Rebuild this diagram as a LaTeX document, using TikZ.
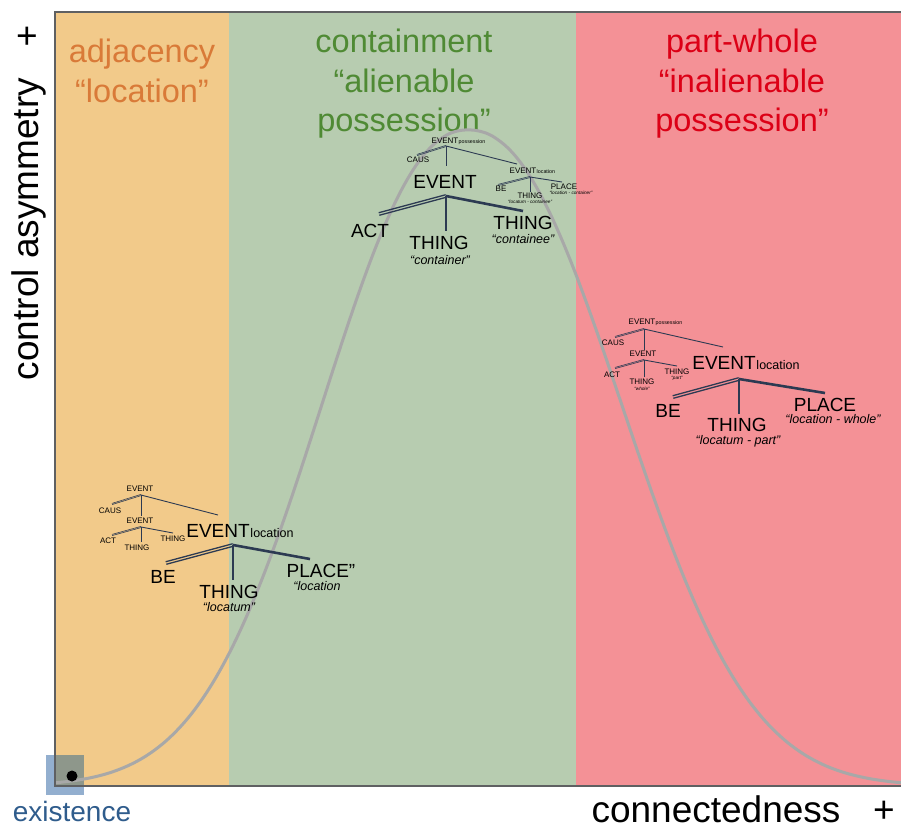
\documentclass[tikz,border=0pt]{standalone}
\usepackage{fontspec}
\setmainfont{Liberation Sans}
\usetikzlibrary{calc}
\definecolor{orgbg}{HTML}{F2CA8A}
\definecolor{grnbg}{HTML}{B7CCB0}
\definecolor{redbg}{HTML}{F49196}
\definecolor{orgtx}{HTML}{D97A38}
\definecolor{grntx}{HTML}{4F8A34}
\definecolor{redtx}{HTML}{DC0016}
\definecolor{navy}{HTML}{2C3A52}
\definecolor{framec}{HTML}{5F6062}
\definecolor{curvec}{HTML}{A8A8A8}
\definecolor{exblue}{HTML}{2F5C8C}
\definecolor{sqblue}{HTML}{93AFCF}
\definecolor{sqgray}{HTML}{8E978B}
\begin{document}
\begin{tikzpicture}[x=1pt,y=-1pt,
  every node/.style={inner sep=0pt, outer sep=0pt},
  ttl/.style={font=\fontsize{32.5}{32.5}\selectfont, anchor=base},
  axlab/.style={font=\fontsize{37}{37}\selectfont, anchor=base},
  bigl/.style={font=\fontsize{19}{19}\selectfont},
  subbig/.style={font=\fontsize{12.5}{12.5}\selectfont, anchor=base west},
  qbig/.style={font=\itshape\fontsize{12.5}{12.5}\selectfont},
  sml/.style={font=\fontsize{8}{8}\selectfont},
  subsml/.style={font=\fontsize{5.3}{5.3}\selectfont, anchor=base west},
  qsml/.style={font=\itshape\fontsize{4.7}{4.7}\selectfont},
  thk/.style={draw=navy, line width=2.6pt},
  thn/.style={draw=navy, line width=0.9pt},
  dbl/.style={draw=navy, to path={($(\tikztostart)!#1!90:(\tikztotarget)$) -- ($(\tikztotarget)!#1!-90:(\tikztostart)$) ($(\tikztostart)!#1!-90:(\tikztotarget)$) -- ($(\tikztotarget)!#1!90:(\tikztostart)$)}},
  dblbig/.style={dbl=1.3pt, line width=1.3pt},
  dblsml/.style={dbl=0.6pt, line width=0.55pt},
]
\useasboundingbox (0,0) rectangle (901,830);
% background regions
\fill[orgbg] (55,12) rectangle (229,786);
\fill[grnbg] (229,12) rectangle (576,786);
\fill[redbg] (576,12) rectangle (901,786);
% titles
\node[ttl, text=orgtx] (adj1) at (142,62) {adjacency};
\node[ttl, text=orgtx] (adj2) at (142,102) {“location”};
\node[ttl, text=grntx] (con1) at (404,52) {containment};
\node[ttl, text=grntx] (con2) at (404,92) {“alienable};
\node[ttl, text=grntx] (con3) at (404,131) {possession”};
\node[ttl, text=redtx] (pw1) at (742,52) {part-whole};
\node[ttl, text=redtx] (pw2) at (742,92) {“inalienable};
\node[ttl, text=redtx] (pw3) at (742,131) {possession”};
% existence square
\fill[sqblue] (46,755) rectangle (84,795);
\fill[sqgray] (55,755) rectangle (84,786);
% curve
\draw[curvec, line width=3pt] plot[domain=55:901, samples=150, smooth]
  (\x, {786-656*exp(-1*pow(abs(\x-468)/((\x<468)?193:203),2.2))});
% ---------- centre tree ----------
\node[sml] (cEp) at (445,141) {EVENT};
\node[subsml] (cEps) at ([xshift=0.4pt]cEp.base east) {possession};
\node[sml] (cCaus) at (418,160) {CAUS};
\coordinate (cS) at (446,146);
\coordinate (cSc) at (417,155);
\coordinate (cSd) at (446,166);
\coordinate (cSl) at (517,164);
\draw[dblsml] (cS) to (cSc);
\draw[thn] (cS) -- (cSd);
\draw[thn] (cS) -- (cSl);
\node[sml] (cEl) at (523,171) {EVENT};
\node[subsml] (cEls) at ([xshift=0.4pt]cEl.base east) {location};
\coordinate (cL) at (530,177);
\coordinate (cLb) at (498,185);
\coordinate (cLt) at (530,192);
\coordinate (cLp) at (562,182);
\draw[dblsml] (cL) to (cLb);
\draw[thn] (cL) -- (cLt);
\draw[thn] (cL) -- (cLp);
\node[sml] (cBe) at (501,189) {BE};
\node[sml] (cTh3) at (530,196) {THING};
\node[qsml] (cQ3) at (530,201.5) {“locatum - containee”};
\node[sml] (cPl) at (564,186.5) {PLACE};
\node[qsml] (cQ4) at (571,192.5) {“location - container”};
\node[bigl] (cEv) at (445,182) {EVENT};
\coordinate (cB) at (446,196);
\coordinate (cBa) at (379,214);
\coordinate (cBt) at (446,231);
\coordinate (cBp) at (523,211);
\draw[dblbig] (cB) to (cBa);
\draw[thk] (cB) -- (cBt);
\draw[thk] (cB) -- (cBp);
\node[bigl] (cAct) at (370,231) {ACT};
\node[bigl] (cTh1) at (439,243) {THING};
\node[qbig] (cQ1) at (440,260) {“container”};
\node[bigl] (cTh2) at (523,223) {THING};
\node[qbig] (cQ2) at (523,239) {“containee”};
% ---------- right tree ----------
\node[sml] (rEp) at (642,322) {EVENT};
\node[subsml] (rEps) at ([xshift=0.4pt]rEp.base east) {possession};
\coordinate (rS) at (644,329);
\coordinate (rSc) at (615,337);
\coordinate (rSd) at (644,350);
\coordinate (rSl) at (723,347);
\draw[dblsml] (rS) to (rSc);
\draw[thn] (rS) -- (rSd);
\draw[thn] (rS) -- (rSl);
\node[sml] (rCaus) at (613,343) {CAUS};
\node[sml] (rEv) at (643,354) {EVENT};
\coordinate (rT) at (644,360);
\coordinate (rTa) at (615,368);
\coordinate (rTd) at (644,377);
\coordinate (rTt) at (677,366);
\draw[dblsml] (rT) to (rTa);
\draw[thn] (rT) -- (rTd);
\draw[thn] (rT) -- (rTt);
\node[sml] (rAct) at (612,375) {ACT};
\node[sml] (rTh1) at (642,382) {THING};
\node[qsml] (rQ1) at (642,388.5) {“whole”};
\node[sml] (rTh2) at (677,372) {THING};
\node[qsml] (rQ2) at (677,378.5) {“part”};
\node[bigl] (rEl) at (724,363) {EVENT};
\node[subbig] (rEls) at ([xshift=0.8pt]rEl.base east) {location};
\coordinate (rB) at (739,379);
\coordinate (rBb) at (673,397);
\coordinate (rBt) at (739,414);
\coordinate (rBp) at (825,393);
\draw[dblbig] (rB) to (rBb);
\draw[thk] (rB) -- (rBt);
\draw[thk] (rB) -- (rBp);
\node[bigl] (rBe) at (668,411) {BE};
\node[bigl] (rTh3) at (737,424.5) {THING};
\node[qbig] (rQ3) at (738,441) {“locatum - part”};
\node[bigl] (rPl) at (825,404.5) {PLACE};
\node[qbig] (rQ4) at (833,419.5) {“location - whole”};
% ---------- left tree ----------
\node[sml] (lE1) at (140,489) {EVENT};
\coordinate (lS) at (141,495);
\coordinate (lSc) at (112,504);
\coordinate (lSd) at (141,516);
\coordinate (lSl) at (218,515);
\draw[dblsml] (lS) to (lSc);
\draw[thn] (lS) -- (lSd);
\draw[thn] (lS) -- (lSl);
\node[sml] (lCaus) at (110,511) {CAUS};
\node[sml] (lE2) at (140,521) {EVENT};
\coordinate (lT) at (141,527);
\coordinate (lTa) at (112,535);
\coordinate (lTd) at (141,542);
\coordinate (lTt) at (173,533);
\draw[dblsml] (lT) to (lTa);
\draw[thn] (lT) -- (lTd);
\draw[thn] (lT) -- (lTt);
\node[sml] (lAct) at (108,541) {ACT};
\node[sml] (lTh1) at (137,548) {THING};
\node[sml] (lTh2) at (173,539) {THING};
\node[bigl] (lEl) at (218,531) {EVENT};
\node[subbig] (lEls) at ([xshift=0.8pt]lEl.base east) {location};
\coordinate (lB) at (233,545);
\coordinate (lBb) at (166,563);
\coordinate (lBt) at (233,580);
\coordinate (lBp) at (310,559);
\draw[dblbig] (lB) to (lBb);
\draw[thk] (lB) -- (lBt);
\draw[thk] (lB) -- (lBp);
\node[bigl] (lBe) at (163,577) {BE};
\node[bigl] (lTh3) at (229,592) {THING};
\node[qbig] (lQ1) at (229,607) {“locatum”};
\node[bigl] (lPl) at (321,571) {PLACE”};
\node[qbig] (lQ2) at (317,586) {“location};
% frame
\draw[framec, line width=2.5pt] (901,12) -- (55,12) -- (55,786) -- (901,786);
\fill[black] (72,776) circle (5.5);
% axis labels
\node[axlab, rotate=90] (ylab) at (38,229) {control asymmetry};
\node[font=\fontsize{37}{37}\selectfont] (yplus) at (27,38) {+};
\node[axlab] (xlab) at (716,822) {connectedness};
\node[font=\fontsize{37}{37}\selectfont] (xplus) at (884,812) {+};
\node[font=\fontsize{28}{28}\selectfont, text=exblue, anchor=base] (exist) at (72,821) {existence};
\end{tikzpicture}
\end{document}
